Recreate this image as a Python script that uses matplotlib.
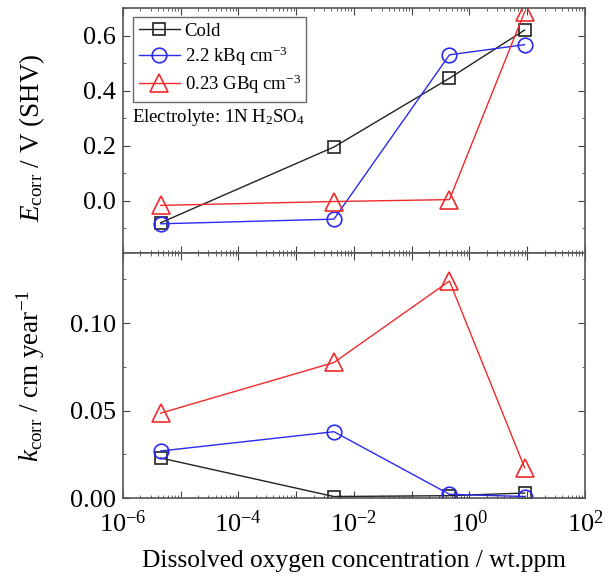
import matplotlib.pyplot as plt
from matplotlib.ticker import MultipleLocator, LogLocator, NullFormatter

plt.rcParams['font.family'] = ['Liberation Serif', 'DejaVu Serif']
plt.rcParams['mathtext.fontset'] = 'custom'
plt.rcParams['mathtext.rm'] = 'Liberation Serif'
plt.rcParams['mathtext.it'] = 'Liberation Serif:italic'

# dissolved oxygen, wt.ppm
do_ppm = [4.5e-6, 4.5e-3, 0.45, 9.0]

labels = ["Cold", "2.2 kBq cm$^{-3}$", "0.23 GBq cm$^{-3}$"]

# corrosion potential, V (SHV)
e_cold = [-0.08, 0.195, 0.445, 0.62]
e_kbq = [-0.084, -0.067, 0.53, 0.567]
e_gbq = [-0.017, -0.003, 0.004, 0.686]

# corrosion rate, cm/year
k_cold = [0.023, 0.001, 0.0015, 0.003]
k_kbq = [0.027, 0.038, 0.0023, 0.001]
k_gbq = [0.0486, 0.0775, 0.124, 0.0175]

# one major tick per decade, label every second one
x_ticks = [1e-6, 1e-5, 1e-4, 1e-3, 1e-2, 1e-1, 1e0, 1e1, 1e2]
x_tick_labels = ["10$^{-6}$", "", "10$^{-4}$", "", "10$^{-2}$", "", "10$^{0}$", "", "10$^{2}$"]

colors = ["#222222", "#2a2af0", "#ee2a2a"]
markers = ["s", "o", "^"]
msizes = [9, 10.5, 12.5]

fig = plt.figure(figsize=(6.11, 5.76), dpi=100)
ax1 = fig.add_axes([0.2013, 0.5608, 0.7561, 0.4252])
ax2 = fig.add_axes([0.2013, 0.1349, 0.7561, 0.4259], sharex=ax1)

for i, (e, k) in enumerate([(e_cold, k_cold), (e_kbq, k_kbq), (e_gbq, k_gbq)]):
    style = dict(color=colors[i], marker=markers[i], markersize=msizes[i],
                 markerfacecolor="none", markeredgewidth=1.2, linewidth=1.0)
    ax1.plot(do_ppm, e, label=labels[i], **style)
    ax2.plot(do_ppm, k, **style)

ax1.set_xscale("log")
ax1.set_xlim(1e-6, 1e2)
ax1.set_ylim(-0.19, 0.70)
ax2.set_ylim(0, 0.14)

ax1.yaxis.set_major_locator(MultipleLocator(0.2))
ax1.yaxis.set_minor_locator(MultipleLocator(0.1))
ax2.yaxis.set_major_locator(MultipleLocator(0.05))
ax2.yaxis.set_minor_locator(MultipleLocator(0.025))
ax1.yaxis.set_major_formatter(plt.FormatStrFormatter("%.1f"))
ax2.yaxis.set_major_formatter(plt.FormatStrFormatter("%.2f"))

for ax in (ax1, ax2):
    ax.xaxis.set_minor_locator(LogLocator(base=10, subs=range(2, 10), numticks=20))
    ax.xaxis.set_minor_formatter(NullFormatter())
    ax.tick_params(which="both", direction="in", top=True, right=True,
                   labelsize=19, color="#444444", pad=5)
    ax.tick_params(which="major", length=5)
    ax.tick_params(which="minor", length=2.5)
    for sp in ax.spines.values():
        sp.set_color("#555555")
        sp.set_linewidth(1.2)

ax2.set_xticks(x_ticks, x_tick_labels)
ax1.tick_params(labelbottom=False)
ax2.tick_params(axis="x", pad=9)

ax1.set_ylabel("$E_{\\rm corr}$ / V (SHV)", fontsize=19.5)
ax2.set_ylabel("$k_{\\rm corr}$ / cm year$^{-1}$", fontsize=19.5)
ax2.set_xlabel("Dissolved oxygen concentration / wt.ppm", fontsize=18.3, labelpad=9)
ax1.yaxis.set_label_coords(-0.165, 0.47)
ax2.yaxis.set_label_coords(-0.165, 0.5)

leg = ax1.legend(loc="upper left", fontsize=13.5, frameon=True, fancybox=False,
                 handlelength=2.2, handletextpad=0.25, borderpad=0.3,
                 labelspacing=0.25, borderaxespad=0.0,
                 bbox_to_anchor=(0.022, 0.963))
leg.get_frame().set_edgecolor("#444444")
leg.get_frame().set_linewidth(1.0)

ax1.text(0.02, 0.555, "Electrolyte: 1N H$_2$SO$_4$", transform=ax1.transAxes,
         fontsize=13.5, va="center")

fig.savefig("out.png", dpi=100)
